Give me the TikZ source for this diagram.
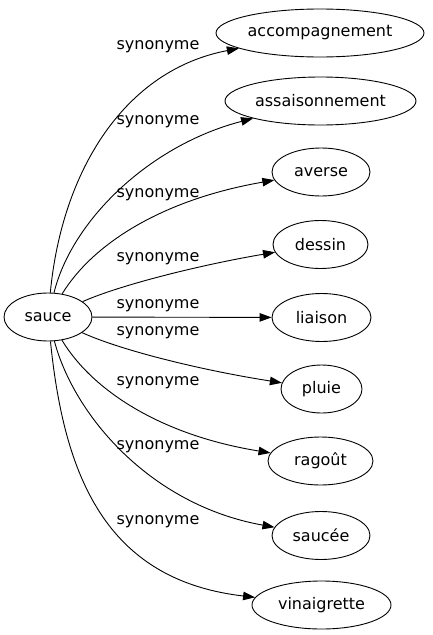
\documentclass[tikz,border=0pt]{standalone}
\usepackage{fontspec}
\setmainfont{DejaVu Sans}
\usepackage{tikz}
\usetikzlibrary{arrows.meta,shapes.geometric}

\begin{document}
\begin{tikzpicture}[
  x=1pt,y=-1pt,
  font=\fontsize{16}{19}\selectfont,
  term/.style={draw,ellipse,inner sep=0pt,minimum height=48pt,line width=.9pt},
  syn/.style={inner sep=0pt},
  arr/.style={-{Triangle[length=12pt,width=8.5pt]},line width=.9pt}
]
\useasboundingbox (0,0) rectangle (432,635);
\node[term,minimum width=88pt] (sauce) at (48,317) {sauce};
\node[term,minimum width=208pt] (accomp) at (320,33) {accompagnement};
\node[term,minimum width=191pt] (assais) at (320.5,101) {assaisonnement};
\node[term,minimum width=98pt] (averse) at (321,172) {averse};
\node[term,minimum width=95pt] (dessin) at (320.5,244.5) {dessin};
\node[term,minimum width=99pt] (liaison) at (321.5,317.5) {liaison};
\node[term,minimum width=81pt] (pluie) at (321.5,389) {pluie};
\node[term,minimum width=105pt] (ragout) at (320.5,461) {ragoût};
\node[term,minimum width=98pt] (saucee) at (321,535.5) {saucée};
\node[term,minimum width=139pt] (vinaig) at (321.5,605) {vinaigrette};
% edge labels
\node[syn] (l1) at (158,47) {synonyme};
\node[syn] (l2) at (158,122) {synonyme};
\node[syn] (l3) at (158,195) {synonyme};
\node[syn] (l4) at (158,259) {synonyme};
\node[syn] (l5) at (158,306) {synonyme};
\node[syn] (l6) at (158,333) {synonyme};
\node[syn] (l7) at (158,383) {synonyme};
\node[syn] (l8) at (158,447) {synonyme};
\node[syn] (l9) at (158,522) {synonyme};
% edges
\draw[arr] (sauce) .. controls (62,170) and (125,70) .. (accomp);
\draw[arr] (sauce) .. controls (72,220) and (150,145) .. (assais);
\draw[arr] (sauce) .. controls (92,245) and (160,200) .. (averse);
\draw[arr] (sauce) .. controls (120,285) and (200,265) .. (dessin);
\draw[arr] (sauce) -- (liaison);
\draw[arr] (sauce) .. controls (120,350) and (200,370) .. (pluie);
\draw[arr] (sauce) .. controls (92,390) and (160,435) .. (ragout);
\draw[arr] (sauce) .. controls (74,415) and (150,505) .. (saucee);
\draw[arr] (sauce) .. controls (64,475) and (105,580) .. (vinaig);
\end{tikzpicture}
\end{document}
